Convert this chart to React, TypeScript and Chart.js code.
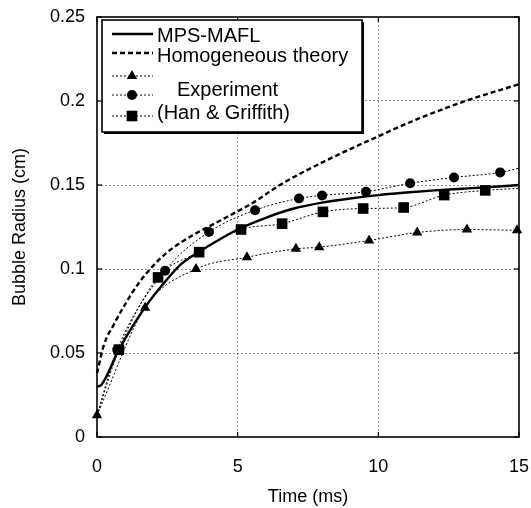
import React, { useEffect, useRef } from 'react';
import { Chart, registerables } from 'chart.js';

Chart.register(...registerables);

const FONT = '"Liberation Sans", Arial, Helvetica, sans-serif';

// ---- data (time in ms, radius in cm) ----
const mpsTime = [0, 0.15, 0.78, 1.7, 2.5, 3.0, 3.6, 4.4, 5.0, 6.0, 7.0, 8.0, 9.0, 10.0, 11.0, 12.0, 13.0, 14.0, 15.0];
const mpsRadius = [0.030, 0.031, 0.052, 0.077, 0.094, 0.103, 0.110, 0.118, 0.1235, 0.1305, 0.136, 0.1395, 0.142, 0.144, 0.1455, 0.1468, 0.1478, 0.1488, 0.150];

const homTime = [0, 0.25, 0.6, 1.0, 1.5, 2.0, 2.5, 3.0, 3.5, 4.4, 5.6, 6.5, 8.2, 10, 11.5, 13.1, 15];
const homRadius = [0.038, 0.055, 0.067, 0.079, 0.092, 0.102, 0.110, 0.116, 0.121, 0.129, 0.140, 0.150, 0.165, 0.179, 0.190, 0.200, 0.210];

const triTime = [0, 1.71, 3.52, 5.33, 7.07, 7.9, 9.67, 11.38, 13.15, 14.93];
const triRadius = [0.013, 0.077, 0.100, 0.107, 0.112, 0.113, 0.117, 0.1217, 0.1235, 0.123];

const cirTime = [0, 0.72, 2.42, 3.98, 5.62, 7.18, 8.0, 9.56, 11.13, 12.69, 14.33, 15];
const cirRadius = [0.013, 0.052, 0.099, 0.122, 0.135, 0.142, 0.1438, 0.146, 0.151, 0.1545, 0.1575, 0.160];

const sqTime = [0, 0.78, 2.17, 3.63, 5.12, 6.58, 8.03, 9.46, 10.9, 12.34, 13.8, 15];
const sqRadius = [0.013, 0.052, 0.095, 0.110, 0.1235, 0.127, 0.134, 0.136, 0.1366, 0.144, 0.1468, 0.148];

const xTicks = [0, 5, 10, 15];
const yTicks = [0, 0.05, 0.1, 0.15, 0.2, 0.25];

const legendLabels = ['MPS-MAFL', 'Homogeneous theory', 'Experiment', '(Han & Griffith)'];

const toPts = (xs: number[], ys: number[]) => xs.map((x, i) => ({ x, y: ys[i] }));
// hide markers on the first/last (line-only) points
const innerRadius = (n: number, r: number) => Array.from({ length: n }, (_, i) => (i === 0 || i === n - 1 ? 0 : r));

function drawMarker(ctx: CanvasRenderingContext2D, style: string, x: number, y: number, r: number) {
  ctx.beginPath();
  if (style === 'circle') {
    ctx.arc(x, y, r, 0, Math.PI * 2);
  } else if (style === 'rect') {
    const s = r * Math.SQRT1_2;
    ctx.rect(x - s, y - s, 2 * s, 2 * s);
  } else {
    const w = (r * Math.sqrt(3)) / 2;
    ctx.moveTo(x, y - r);
    ctx.lineTo(x + w, y + r / 2);
    ctx.lineTo(x - w, y + r / 2);
    ctx.closePath();
  }
  ctx.fillStyle = '#000';
  ctx.fill();
}

const framePlugin = {
  id: 'frame',
  afterDatasetsDraw(chart: any) {
    const { ctx, chartArea, scales } = chart;
    const { left, right, top, bottom } = chartArea;
    ctx.save();
    ctx.setLineDash([]);
    ctx.strokeStyle = '#000';
    ctx.lineWidth = 1.2;
    const seg = (x1: number, y1: number, x2: number, y2: number) => {
      ctx.beginPath();
      ctx.moveTo(x1, y1);
      ctx.lineTo(x2, y2);
      ctx.stroke();
    };
    xTicks.forEach((v) => {
      const px = scales.x.getPixelForValue(v);
      seg(px, bottom, px, bottom - 5);
      seg(px, top, px, top + 5);
    });
    yTicks.forEach((v) => {
      const py = scales.y.getPixelForValue(v);
      seg(left, py, left + 5, py);
      seg(right, py, right - 5, py);
    });
    ctx.lineWidth = 1.6;
    ctx.strokeRect(left, top, right - left, bottom - top);
    ctx.restore();
  },
};

const legendPlugin = {
  id: 'customLegend',
  afterDraw(chart: any) {
    const { ctx, chartArea } = chart;
    const bx = chartArea.left + 5;
    const by = chartArea.top + 3;
    const bw = 260;
    const bh = 112;
    ctx.save();
    ctx.setLineDash([]);
    ctx.fillStyle = '#000';
    ctx.fillRect(bx + 2, by + 2, bw, bh);
    ctx.fillStyle = '#fff';
    ctx.fillRect(bx, by, bw, bh);
    ctx.strokeStyle = '#000';
    ctx.lineWidth = 1.6;
    ctx.strokeRect(bx, by, bw, bh);

    const lx1 = bx + 10;
    const lx2 = bx + 51;
    const tx = bx + 55;
    const line = (y: number, width: number, dash: number[]) => {
      ctx.setLineDash(dash);
      ctx.lineWidth = width;
      ctx.beginPath();
      ctx.moveTo(lx1, y);
      ctx.lineTo(lx2, y);
      ctx.stroke();
    };
    line(by + 14, 2.4, []);
    line(by + 33, 2.4, [5, 3]);
    line(by + 56, 1, [2, 2]);
    line(by + 75, 1, [2, 2]);
    line(by + 96, 1, [2, 2]);
    ctx.setLineDash([]);
    const mx = bx + 30;
    drawMarker(ctx, 'triangle', mx, by + 56, 6);
    drawMarker(ctx, 'circle', mx, by + 75, 5);
    drawMarker(ctx, 'rect', mx, by + 96, 7.5);

    ctx.fillStyle = '#000';
    ctx.font = `20px ${FONT}`;
    ctx.textBaseline = 'middle';
    ctx.textAlign = 'left';
    ctx.fillText(legendLabels[0], tx, by + 16);
    ctx.fillText(legendLabels[1], tx, by + 36);
    ctx.fillText(legendLabels[2], tx + 20, by + 70);
    ctx.fillText(legendLabels[3], tx, by + 93);
    ctx.restore();
  },
};

export default function App() {
  const ref = useRef<HTMLCanvasElement | null>(null);

  useEffect(() => {
    if (!ref.current) return;
    const dotted = [2, 2];
    const expBase = {
      showLine: true,
      borderColor: '#000',
      borderWidth: 1,
      borderDash: dotted,
      pointBackgroundColor: '#000',
      pointBorderColor: '#000',
      pointBorderWidth: 0,
      cubicInterpolationMode: 'monotone',
      clip: false,
    };
    const chart = new Chart(ref.current, {
      type: 'scatter',
      data: {
        datasets: [
          {
            ...expBase,
            label: 'Experiment (triangle)',
            data: toPts(triTime, triRadius),
            pointStyle: 'triangle',
            pointRadius: 6,
          },
          {
            ...expBase,
            label: 'Experiment (circle)',
            data: toPts(cirTime, cirRadius),
            pointStyle: 'circle',
            pointRadius: innerRadius(cirTime.length, 5),
          },
          {
            ...expBase,
            label: 'Experiment (square)',
            data: toPts(sqTime, sqRadius),
            pointStyle: 'rect',
            pointRadius: innerRadius(sqTime.length, 7.5),
          },
          {
            label: 'Homogeneous theory',
            data: toPts(homTime, homRadius),
            showLine: true,
            borderColor: '#000',
            borderWidth: 2.4,
            borderDash: [5, 3],
            pointRadius: 0,
            cubicInterpolationMode: 'monotone',
            clip: false,
          },
          {
            label: 'MPS-MAFL',
            data: toPts(mpsTime, mpsRadius),
            showLine: true,
            borderColor: '#000',
            borderWidth: 2.4,
            pointRadius: 0,
            cubicInterpolationMode: 'monotone',
            clip: false,
          },
        ],
      },
      options: {
        animation: false,
        responsive: false,
        maintainAspectRatio: false,
        layout: { padding: { top: 17, right: 12, left: 0, bottom: 0 } },
        plugins: {
          legend: { display: false },
          tooltip: { enabled: false },
        },
        scales: {
          x: {
            type: 'linear',
            min: 0,
            max: 15,
            afterBuildTicks: (axis: any) => {
              axis.ticks = xTicks.map((v) => ({ value: v }));
            },
            afterFit: (axis: any) => {
              axis.height = 71;
              axis.paddingLeft = 0;
              axis.paddingRight = 0;
            },
            grid: {
              color: (c: any) => (c.tick && (c.tick.value === 0 || c.tick.value === 15) ? 'rgba(0,0,0,0)' : '#8a8a8a'),
              lineWidth: 1,
              drawTicks: false,
            },
            border: { display: false, dash: [2, 2] },
            ticks: {
              color: '#000',
              padding: 19,
              font: { family: FONT, size: 18 },
              maxRotation: 0,
              callback: (v: any) => String(v),
            },
            title: {
              display: true,
              text: 'Time (ms)',
              color: '#000',
              font: { family: FONT, size: 18 },
              padding: { top: 0, bottom: 0 },
            },
          },
          y: {
            type: 'linear',
            min: 0,
            max: 0.25,
            afterBuildTicks: (axis: any) => {
              axis.ticks = yTicks.map((v) => ({ value: v }));
            },
            afterFit: (axis: any) => {
              axis.width = 97;
              axis.paddingTop = 0;
              axis.paddingBottom = 0;
            },
            grid: {
              color: (c: any) => (c.tick && (c.tick.value === 0 || c.tick.value === 0.25) ? 'rgba(0,0,0,0)' : '#8a8a8a'),
              lineWidth: 1,
              drawTicks: false,
            },
            border: { display: false, dash: [2, 2] },
            ticks: {
              color: '#000',
              padding: 12,
              font: { family: FONT, size: 18 },
              callback: (v: any) => String(Number(Number(v).toFixed(2))),
            },
            title: {
              display: true,
              text: 'Bubble Radius (cm)',
              color: '#000',
              font: { family: FONT, size: 18 },
              padding: { top: 9, bottom: 0 },
            },
          },
        },
      } as any,
      plugins: [framePlugin, legendPlugin],
    });
    return () => chart.destroy();
  }, []);

  return (
    <div style={{ position: 'absolute', left: 0, top: 0, width: 531, height: 508, background: '#fff' }}>
      <canvas ref={ref} width={531} height={508} style={{ width: 531, height: 508, display: 'block' }} />
    </div>
  );
}
